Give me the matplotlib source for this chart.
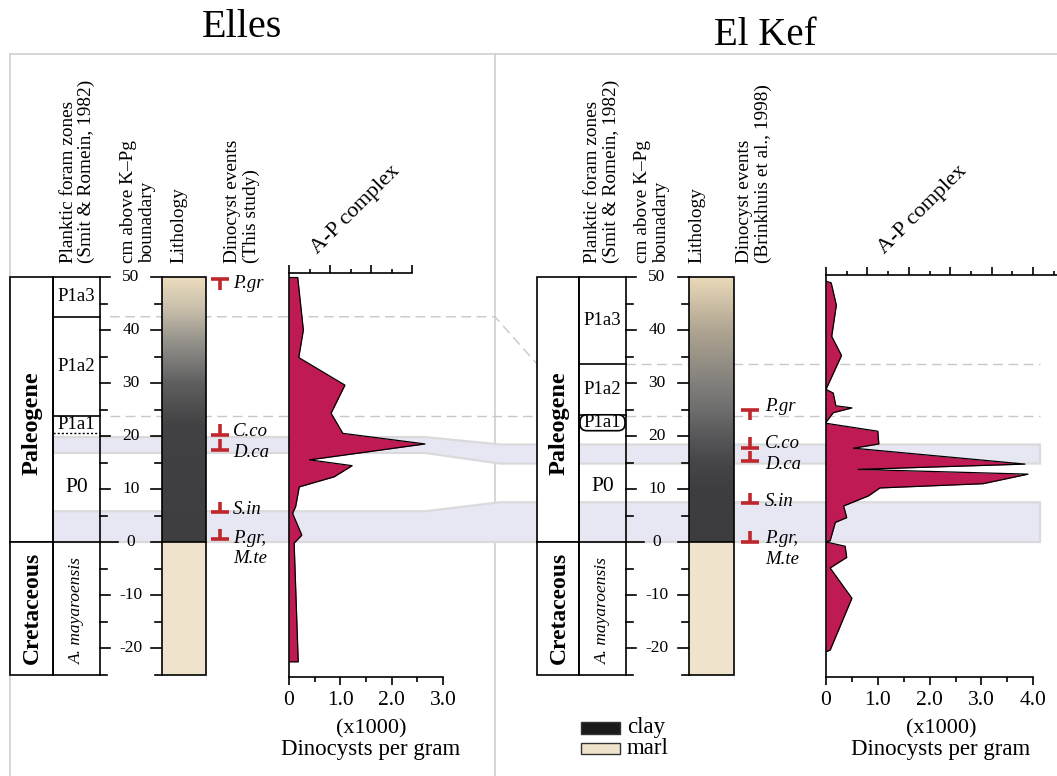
import numpy as np
import matplotlib
matplotlib.use('Agg')
import matplotlib.pyplot as plt
from matplotlib.patches import Rectangle, Polygon, FancyBboxPatch

plt.rcParams['font.family'] = ['Liberation Serif', 'DejaVu Serif']

# ---------------- data ----------------
depth_major = [-20, -10, 0, 10, 20, 30, 40, 50]
depth_minor = [-25, -15, -5, 5, 15, 25, 35, 45]

zone_names = ['P1a3', 'P1a2', 'P1a1', 'P0']
elles_zone_top = [50, 42.5, 23.8, 20.6]
elles_zone_base = [42.5, 23.8, 20.6, 0]
kef_zone_top = [50, 33.6, 24.0, 21.0]
kef_zone_base = [33.6, 24.0, 21.0, 0]

elles_ap_depth = [49.9, 49.9, 40.0, 34.8, 29.6, 24.3, 20.5, 18.5, 15.5, 14.4,
                  12.3, 10.4, 6.7, 5.4, 1.3, -0.2, -22.6, -22.6]
elles_ap = [0.0, 0.17, 0.28, 0.19, 1.09, 0.82, 1.05, 2.65, 0.40, 1.23,
            0.88, 0.20, 0.13, 0.07, 0.25, 0.10, 0.18, 0.0]

kef_ap_depth = [49.2, 48.9, 44.7, 38.8, 35.2, 28.8, 28.1, 25.7, 25.3, 24.4,
                22.6, 22.4, 20.9, 18.5, 17.7, 14.7, 13.7, 12.8, 11.0, 10.2,
                8.7, 6.8, 4.6, 3.7, 0.25, 0.0, -0.8, -2.9, -4.9, -10.6,
                -20.4, -20.7]
kef_ap = [0.0, 0.10, 0.20, 0.11, 0.30, 0.0, 0.14, 0.19, 0.50, 0.14,
          0.0, 0.0, 1.00, 1.02, 0.53, 3.84, 0.62, 3.90, 3.03, 1.04,
          0.82, 0.34, 0.40, 0.18, 0.08, 0.0, 0.37, 0.40, 0.08, 0.50,
          0.08, 0.0]

event_names = ['P.gr', 'C.co', 'D.ca', 'S.in', 'P.gr,\nM.te']
event_kind = ['top', 'base', 'base', 'base', 'base']
elles_event_depth = [49.6, 20.2, 17.4, 5.6, 0.5]
kef_event_depth = [25.0, 17.8, 15.2, 7.3, 0.0]

band_elles_top = [19.8, 5.8]
band_elles_base = [16.8, 0.0]
band_kef_top = [18.4, 7.5]
band_kef_base = [14.8, 0.0]

corr_elles = [42.5, 23.8]
corr_kef = [33.6, 23.8]

elles_bottom_ticks = [0, 1.0, 2.0, 3.0]
kef_bottom_ticks = [0, 1.0, 2.0, 3.0, 4.0]

# ---------------- layout ----------------
W, H = 1057, 776
Y0, S = 542.0, 5.3


def cm(py):
    return (Y0 - py) / S


RED = '#c0272d'
AP = '#c01a55'
GRID = '#c8c8c8'

fig = plt.figure(figsize=(W / 100, H / 100), dpi=100)
ax = fig.add_axes([0, 0, 1, 1])
ax.axis('off')

# borders
ax.plot([10, W], [cm(54), cm(54)], color='#cfcfcf', lw=1.2, zorder=0.5)
ax.plot([10, 10], [cm(54), cm(H)], color='#cfcfcf', lw=1.2, zorder=0.5)
ax.plot([495, 495], [cm(54), cm(H)], color='#cfcfcf', lw=1.2, zorder=0.5)

# titles
ax.text(242, cm(37), 'Elles', fontsize=29, ha='center', va='baseline')
ax.text(765, cm(45), 'El Kef', fontsize=28, ha='center', va='baseline')

# correlation bands
for et, eb, kt, kb in zip(band_elles_top, band_elles_base, band_kef_top, band_kef_base):
    xs = [53, 425, 500, 1040, 1040, 500, 425, 53]
    ys = [et, et, kt, kt, kb, kb, eb, eb]
    ax.add_patch(Polygon(np.column_stack([xs, ys]), closed=True, fc='#e7e7f3',
                         ec='#dadadc', lw=1.6, zorder=1))

# correlation dashed lines
for e, k in zip(corr_elles, corr_kef):
    ax.plot([110, 495, 537], [e, e, k], color=GRID, lw=1, ls=(0, (7, 4)), zorder=1.5)
    ax.plot([626, 1040], [k, k], color=GRID, lw=1, ls=(0, (7, 4)), zorder=1.5)

litho_depth_stops = {
    'elles': ([0, 22, 30, 38, 44, 50],
              [(62, 62, 64), (66, 66, 68), (95, 95, 96), (150, 147, 140), (200, 190, 170), (236, 220, 190)]),
    'kef': ([0, 10, 15, 20, 25, 30, 40, 50],
            [(60, 60, 62), (62, 62, 64), (70, 70, 72), (88, 88, 90), (110, 110, 110), (130, 128, 124),
             (175, 165, 145), (234, 217, 186)]),
}


def column(site, outer, zone, label_x, litho, ev_x, ev_lx, zone_top, zone_base,
           ev_depth, ev_dy, headers_x, header2):
    # outer period column
    ax.add_patch(Rectangle((outer[0], 0), outer[1] - outer[0], 50, fc='white', ec='k', lw=1.2, zorder=3))
    ax.add_patch(Rectangle((outer[0], -25), outer[1] - outer[0], 25, fc='white', ec='k', lw=1.2, zorder=3))
    oc = (outer[0] + outer[1]) / 2 + 1
    ax.text(oc, 22.5, 'Paleogene', rotation=90, fontsize=17.5, fontweight='bold', ha='center', va='center', zorder=4)
    ax.text(oc, -12.5, 'Cretaceous', rotation=90, fontsize=17, fontweight='bold', ha='center', va='center', zorder=4)
    # zone column
    ax.add_patch(Rectangle((zone[0], -25), zone[1] - zone[0], 75, fill=False, ec='k', lw=1.2, zorder=3))
    ax.plot([zone[0], zone[1]], [0, 0], color='k', lw=1.2, zorder=3)
    zc = (zone[0] + zone[1]) / 2
    for i, (nm, t, b) in enumerate(zip(zone_names, zone_top, zone_base)):
        fs = 15.5 if nm == 'P0' else 13.5
        ax.text(zc, (t + b) / 2, nm, fontsize=fs, ha='center', va='center', zorder=4)
        if site == 'elles' and i < 3:
            ax.plot([zone[0], zone[1]], [b, b], color='k', lw=1.2 if i < 2 else 1.0,
                    ls='-' if i < 2 else (0, (1.5, 1.5)), zorder=3)
        if site == 'kef' and i < 2:
            ax.plot([zone[0], zone[1]], [b, b], color='k', lw=1.2, zorder=3)
        if site == 'kef' and nm == 'P1a1':
            ax.add_patch(FancyBboxPatch((zone[0] + 1, b), zone[1] - zone[0] - 2, t - b,
                                        boxstyle='round,pad=0,rounding_size=7', mutation_aspect=1 / S,
                                        fc='white', ec='k', lw=1.2, zorder=3.5))
    ax.text(zc, -13.0, 'A. mayaroensis', rotation=90, fontsize=12.5, style='italic',
            ha='center', va='center', zorder=4)
    # depth scale
    for t in depth_major:
        L = 18 if t == 0 else 10
        ax.plot([zone[1], zone[1] + L], [t, t], color='k', lw=1.2, zorder=3)
        ax.plot([litho[0] - 11, litho[0]], [t, t], color='k', lw=1.2, zorder=3)
        ax.text(label_x, t, str(t), fontsize=12.5, ha='center', va='center', zorder=4)
    for t in depth_minor:
        ax.plot([zone[1], zone[1] + 7], [t, t], color='k', lw=1.2, zorder=3)
        ax.plot([litho[0] - 7, litho[0]], [t, t], color='k', lw=1.2, zorder=3)
    # lithology
    zs, cols = litho_depth_stops[site]
    zg = np.linspace(0, 50, 300)
    cols = np.array(cols) / 255.0
    rgb = np.stack([np.interp(zg, zs, cols[:, c]) for c in range(3)], axis=-1)[:, None, :]
    ax.imshow(rgb, extent=(litho[0], litho[1], 0, 50), origin='lower', aspect='auto',
              interpolation='bilinear', zorder=3)
    ax.add_patch(Rectangle((litho[0], -25), litho[1] - litho[0], 25, fc='#efe4cb', ec='none', zorder=3))
    ax.add_patch(Rectangle((litho[0], -25), litho[1] - litho[0], 75, fill=False, ec='k', lw=1.2, zorder=3.2))
    ax.plot([litho[0], litho[1]], [0, 0], color='k', lw=1.2, zorder=3.2)
    # events
    for nm, k, d, dy in zip(event_names, event_kind, ev_depth, ev_dy):
        stem = 2.0 if k == 'base' else -2.0
        ax.plot([ev_x - 9, ev_x + 9], [d, d], color=RED, lw=2.6, solid_capstyle='butt', zorder=5)
        ax.plot([ev_x, ev_x], [d, d + stem], color=RED, lw=2.6, solid_capstyle='butt', zorder=5)
        for i, line in enumerate(nm.split('\n')):
            ax.text(ev_lx, d + dy - i * 3.9, line, fontsize=13.5, style='italic',
                    ha='left', va='center', zorder=5)
    # headers
    hdr = ['Planktic foram zones\n(Smit & Romein, 1982)', 'cm above K\u2013Pg\nbounadary',
           'Lithology', header2]
    for hx, txt in zip(headers_x, hdr):
        ax.text(hx, cm(263), txt, rotation=90, fontsize=13.9, ha='center', va='bottom',
                multialignment='left', linespacing=1.12)


column('elles', (10, 53), (53, 100), 131, (162, 206), 220, 233,
       elles_zone_top, elles_zone_base, elles_event_depth, [-0.9, 0.6, -0.6, 0.6, 0.2],
       [77.5, 138, 179, 242], 'Dinocyst events\n(This study)')
column('kef', (537, 579), (579, 626), 657, (689, 734), 750, 765,
       kef_zone_top, kef_zone_base, kef_event_depth, [0.5, 0.7, -0.5, 0.3, 0.6],
       [602, 652, 697, 754], 'Dinocyst events\n(Brinkhuis et al., 1998)')

# legend (lithology)
ax.add_patch(Rectangle((581, cm(734)), 39, cm(722) - cm(734), fc='#1a1a1a', ec='#333333', lw=1, zorder=3))
ax.add_patch(Rectangle((581, cm(754)), 39, cm(743) - cm(754), fc='#efe4cb', ec='#333333', lw=1, zorder=3))
ax.text(627, cm(727), 'clay', fontsize=16.5, ha='left', va='center')
ax.text(627, cm(748), 'marl', fontsize=16.5, ha='left', va='center')

ax.set_xlim(0, W)
ax.set_ylim(cm(H), cm(0))


def profile(x0, ppk, xmax, top_py, bot_py, depth, vals, bticks, top_max, lab_x, ap_x, ap_y):
    axp = fig.add_axes([x0 / W, 1 - bot_py / H, xmax * ppk / W, (bot_py - top_py) / H])
    axp.set_xlim(0, xmax)
    axp.set_ylim(cm(bot_py), cm(top_py))
    axp.patch.set_visible(False)
    axp.fill_betweenx(depth, 0, vals, color=AP, lw=0, zorder=2)
    axp.plot(vals, depth, color='k', lw=0.9, zorder=3)
    axp.spines['right'].set_visible(False)
    axp.spines['top'].set_visible(False)
    axp.spines['left'].set_linewidth(1.2)
    axp.spines['bottom'].set_linewidth(1.2)
    axp.spines['bottom'].set_bounds(0, bticks[-1])
    axp.set_yticks([])
    axp.set_xticks(bticks)
    axp.set_xticks(np.arange(0, bticks[-1] + 0.01, 0.5), minor=True)
    axp.set_xticklabels(['0' if v == 0 else f'{v:.1f}' for v in bticks])
    axp.tick_params(axis='x', which='major', length=6, width=1.2, pad=4, labelsize=15.5)
    axp.tick_params(axis='x', which='minor', length=3.5, width=1.2)
    sec = axp.secondary_xaxis('top')
    sec.set_xticks(np.arange(0, top_max + 0.01, 0.8))
    sec.set_xticks(np.arange(0, top_max + 0.01, 0.4), minor=True)
    sec.set_xticklabels([])
    sec.tick_params(which='major', length=5.5, width=1.2)
    sec.tick_params(which='minor', length=3, width=1.2)
    sec.spines['top'].set_linewidth(1.2)
    sec.spines['top'].set_bounds(0, xmax)
    ax.text(lab_x, cm(729), '(x1000)', fontsize=16, ha='center', va='center')
    ax.text(lab_x, cm(750), 'Dinocysts per gram', fontsize=16.5, ha='center', va='center')
    ax.text(ap_x, cm(ap_y), 'A-P complex', fontsize=16, rotation=45, rotation_mode='anchor',
            ha='left', va='baseline')
    return axp, sec


a1, s1 = profile(289, 51.3, 3.0, 273, 677, elles_ap_depth, elles_ap, elles_bottom_ticks, 2.4, 371, 317, 254)
s1.spines['top'].set_bounds(0, 2.4)
a2, s2 = profile(826, 51.8, 4.46, 275, 677, kef_ap_depth, kef_ap, kef_bottom_ticks, 4.4, 941, 884, 254)

fig.savefig('out.png', dpi=100)
